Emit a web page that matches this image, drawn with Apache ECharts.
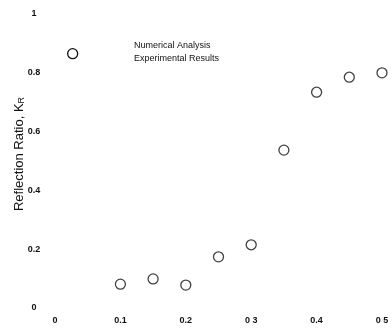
<!DOCTYPE html>
<html>
<head>
<meta charset="utf-8">
<script src="https://cdn.jsdelivr.net/npm/echarts@6/dist/echarts.min.js"></script>
<style>
  html, body { margin: 0; padding: 0; background: #fff; }
  #main { width: 392px; height: 334px; }
</style>
</head>
<body>
<div id="main"></div>
<script>
// x values (ratio)
let xValues = [0.1, 0.15, 0.2, 0.25, 0.3, 0.35, 0.4, 0.45, 0.5]
// experimental reflection ratio K_R
let krValues = [0.081, 0.099, 0.078, 0.174, 0.215, 0.537, 0.734, 0.785, 0.80]
// tick labels
let xTicks = ['0', '0.1', '0.2', '0 3', '0.4', '0 5']
let yTicks = ['0', '0.2', '0.4', '0.6', '0.8', '1']
let legendNames = ['Numerical Analysis', 'Experimental Results']

let points = xValues.map((x, i) => [x, krValues[i]])

let labelFont = 'Liberation Sans, Arial, sans-serif'

let myChart = echarts.init(document.getElementById('main'))
let option = {
    animation: false,
    grid: { left: 55, right: 10, top: 14, bottom: 26, containLabel: false, outerBoundsMode: 'none' },
    xAxis: {
        type: 'value',
        min: 0, max: 0.5, interval: 0.1,
        axisLine: { show: false },
        axisTick: { show: false },
        splitLine: { show: false },
        axisLabel: {
            margin: 8,
            fontSize: 9,
            fontWeight: 'bold',
            color: '#111',
            fontFamily: labelFont,
            formatter: (v) => xTicks[Math.round(v * 10)]
        }
    },
    yAxis: {
        type: 'value',
        min: 0, max: 1, interval: 0.2,
        axisLine: { show: false },
        axisTick: { show: false },
        splitLine: { show: false },
        name: '{a|Reflection Ratio, K}{b|R}',
        nameLocation: 'middle',
        nameGap: 29,
        nameRotate: 90,
        nameMoveOverlap: false,
        nameTextStyle: {
            padding: [0, 0, 0, 14],
            rich: {
                a: { fontSize: 13, color: '#111', fontFamily: labelFont },
                b: { fontSize: 9, color: '#111', fontFamily: labelFont, verticalAlign: 'bottom', padding: [5, 0, 0, 0] }
            }
        },
        axisLabel: {
            margin: 21,
            fontSize: 9,
            fontWeight: 'bold',
            color: '#111',
            fontFamily: labelFont,
            align: 'center',
            formatter: (v) => yTicks[Math.round(v * 5)]
        }
    },
    graphic: [
        { type: 'circle', left: 67, top: 48, shape: { r: 5 }, style: { fill: '#fff', stroke: '#111', lineWidth: 1.3 } },
        { type: 'text', left: 134, top: 41, style: { text: legendNames[0], fontSize: 9, fill: '#111', fontFamily: labelFont } },
        { type: 'text', left: 134, top: 54, style: { text: legendNames[1], fontSize: 9, fill: '#111', fontFamily: labelFont } }
    ],
    series: [
        {
            name: legendNames[1],
            type: 'scatter',
            symbol: 'circle',
            symbolSize: 10,
            itemStyle: { color: '#fff', borderColor: '#111', borderWidth: 1.3 },
            data: points
        }
    ]
}
myChart.setOption(option)
</script>
</body>
</html>
